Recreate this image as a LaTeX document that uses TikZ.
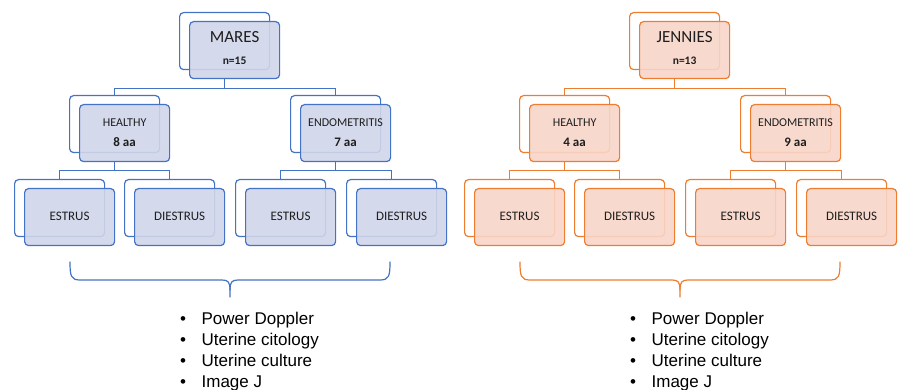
\documentclass[tikz,border=0pt]{standalone}
\usepackage{fontspec}
\setmainfont{Carlito}
\newfontfamily\listfont{Liberation Sans}
\usetikzlibrary{calc}
\definecolor{bline}{RGB}{68,114,196}
\definecolor{bfill}{RGB}{208,213,234}
\definecolor{oline}{RGB}{237,125,49}
\definecolor{ofill}{RGB}{248,213,200}
\definecolor{txt}{RGB}{30,30,30}
\tikzset{
  boxbase/.style={rectangle, rounded corners=4pt, line width=1.2pt, minimum width=90pt, minimum height=57pt, inner sep=0pt, anchor=north west},
  back/.style={boxbase, draw=#1line, fill=white},
  front/.style={boxbase, draw=#1line, fill=#1fill, fill opacity=0.9},
  conn/.style={draw=#1line, line width=1.2pt},
  brace/.style={draw=#1line, line width=1.2pt, line cap=round},
  bigt/.style={anchor=base, text=txt, font=\fontsize{17}{19}\selectfont},
  smallb/.style={anchor=base, text=txt, font=\fontsize{11.5}{13}\selectfont\bfseries},
  midt/.style={anchor=base, text=txt, font=\fontsize{12}{14}\selectfont},
  midb/.style={anchor=base, text=txt, font=\fontsize{13}{15}\selectfont\bfseries},
  leaft/.style={anchor=base, text=txt, font=\fontsize{13}{15}\selectfont},
  listt/.style={anchor=base west, text=black, inner sep=0pt, font=\listfont\fontsize{17}{21}\selectfont},
}
% name, x, y, colour prefix
\newcommand\bpair[4]{%
  \node[back=#4] (#1B) at (#2,#3) {};
  \node[front=#4] (#1F) at ($(#2,#3)+(10,9)$) {};}
% one full tree: prefix, x shift, colour, top title, n, healthy count, endometritis count
\newcommand\tree[7]{%
  \bpair{#1M}{179+#2}{12}{#3}
  \bpair{#1H}{69+#2}{95}{#3}
  \bpair{#1E}{290+#2}{95}{#3}
  \bpair{#1HE}{14+#2}{179}{#3}
  \bpair{#1HD}{124+#2}{179}{#3}
  \bpair{#1EE}{235+#2}{179}{#3}
  \bpair{#1ED}{346+#2}{179}{#3}
  \node[bigt] (#1Mt) at ($(#1MF.north)+(0,21.5)$) {#4};
  \node[smallb] (#1Mn) at ($(#1MF.north)+(0,44)$) {#5};
  \node[midt] (#1Ht) at ($(#1HF.north)+(0,22.7)$) {HEALTHY};
  \node[midb] (#1Hn) at ($(#1HF.north)+(0,42.7)$) {#6};
  \node[midt] (#1Et) at ($(#1EF.north)+(0,22.7)$) {ENDOMETRITIS};
  \node[midb] (#1En) at ($(#1EF.north)+(0,42.7)$) {#7};
  \node[leaft] (#1HEt) at ($(#1HEF.north)+(0,32.7)$) {ESTRUS};
  \node[leaft] (#1HDt) at ($(#1HDF.north)+(0,32.7)$) {DIESTRUS};
  \node[leaft] (#1EEt) at ($(#1EEF.north)+(0,32.7)$) {ESTRUS};
  \node[leaft] (#1EDt) at ($(#1EDF.north)+(0,32.7)$) {DIESTRUS};
  \draw[conn=#3] (#1MB.south |- #1MF.south) -- ++(0,9) -| (#1HB.north);
  \draw[conn=#3] (#1MB.south |- #1MF.south) -- ++(0,9) -| (#1EB.north);
  \draw[conn=#3] (#1HB.south |- #1HF.south) -- ++(0,8.5) -| (#1HEB.north);
  \draw[conn=#3] (#1HB.south |- #1HF.south) -- ++(0,8.5) -| (#1HDB.north);
  \draw[conn=#3] (#1EB.south |- #1EF.south) -- ++(0,8.5) -| (#1EEB.north);
  \draw[conn=#3] (#1EB.south |- #1EF.south) -- ++(0,8.5) -| (#1EDB.north);
  \draw[brace=#3] (70+#2,262) .. controls (70+#2,276) and (71+#2,280) .. (80+#2,280)
     -- (222+#2,280) .. controls (228+#2,280) and (230+#2,282) .. (230+#2,290) -- (230+#2,297);
  \draw[brace=#3] (390+#2,262) .. controls (390+#2,276) and (389+#2,280) .. (380+#2,280)
     -- (238+#2,280) .. controls (232+#2,280) and (230+#2,282) .. (230+#2,290);
  \node[listt] (#1L) at (180+#2,325) {\begin{tabular}[t]{@{}l@{\hspace{15.5pt}}l@{}}
     \textbullet & Power Doppler\\
     \textbullet & Uterine citology\\
     \textbullet & Uterine culture\\
     \textbullet & Image J
   \end{tabular}};
}
\begin{document}
\begin{tikzpicture}[x=1pt,y=-1pt]
\useasboundingbox (0,0) rectangle (898,390);
\tree{a}{0}{b}{MARES}{n=15}{8 aa}{7 aa}
\tree{c}{450}{o}{JENNIES}{n=13}{4 aa}{9 aa}
\end{tikzpicture}
\end{document}
